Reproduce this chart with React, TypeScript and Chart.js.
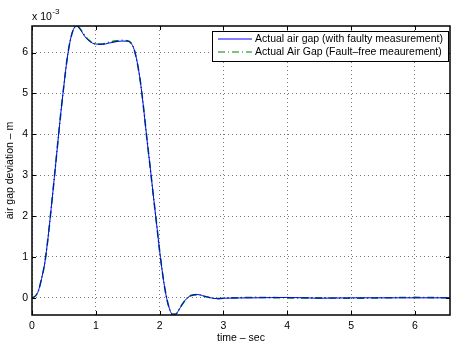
import React, { useEffect, useRef } from "react";
import Chart from "chart.js/auto";

// time axis (sec)
const timeSec = [
  0.0, 0.05, 0.1, 0.15, 0.2, 0.25, 0.3, 0.35, 0.4, 0.45, 0.5, 0.55, 0.6, 0.65, 0.7,
  0.75, 0.8, 0.85, 0.9, 0.95, 1.0, 1.1, 1.2, 1.3, 1.4, 1.48, 1.55, 1.6, 1.65, 1.7,
  1.75, 1.8, 1.85, 1.9, 1.95, 2.0, 2.05, 2.1, 2.15, 2.2, 2.25, 2.3, 2.35, 2.4, 2.45,
  2.5, 2.6, 2.7, 2.8, 2.9, 3.0, 3.5, 4.0, 4.5, 5.0, 5.5, 6.0, 6.55,
];
// air gap deviation (x 10^-3 m), with faulty measurement
const gapFaulty = [
  0.0, 0.04, 0.17, 0.47, 0.85, 1.45, 2.18, 2.94, 3.73, 4.5, 5.2, 5.84, 6.3, 6.57, 6.65,
  6.58, 6.46, 6.35, 6.28, 6.23, 6.21, 6.2, 6.23, 6.26, 6.28, 6.28, 6.23, 6.08, 5.75, 5.27,
  4.62, 3.9, 3.22, 2.52, 1.84, 1.15, 0.55, 0.07, -0.25, -0.4, -0.4, -0.3, -0.17, -0.06, 0.02,
  0.06, 0.08, 0.04, 0.0, -0.02, -0.01, 0.0, 0.01, -0.01, 0.0, 0.0, 0.0, 0.0,
];
// air gap deviation (x 10^-3 m), fault-free measurement
const gapFaultFree = [
  0.0, 0.04, 0.17, 0.47, 0.85, 1.45, 2.18, 2.94, 3.73, 4.5, 5.2, 5.84, 6.3, 6.57, 6.65,
  6.59, 6.48, 6.37, 6.29, 6.24, 6.21, 6.21, 6.25, 6.28, 6.3, 6.29, 6.24, 6.08, 5.75, 5.27,
  4.62, 3.9, 3.22, 2.52, 1.84, 1.15, 0.55, 0.07, -0.25, -0.4, -0.4, -0.3, -0.17, -0.06, 0.02,
  0.06, 0.08, 0.04, 0.0, -0.02, -0.01, 0.01, 0.0, 0.0, -0.01, 0.0, 0.01, 0.0,
];
const xTicks = [0, 1, 2, 3, 4, 5, 6];
const yTicks = [0, 1, 2, 3, 4, 5, 6];
const seriesLabels = [
  "Actual air gap (with faulty measurement)",
  "Actual Air Gap (Fault\u2013free meaurement)",
];
const xTitle = "time \u2013 sec";
const yTitle = "air gap deviation \u2013 m";
const exponentBase = "x 10";
const exponentPower = "-3";

const FONT = "'Liberation Sans', Arial, Helvetica, sans-serif";
const BLUE = "#0000ff";
const GREEN = "#008000";
const GREEN_DASH = [7, 3, 1, 3];

const framePlugin = {
  id: "matlabFrame",
  afterDraw(chart: any) {
    const { ctx, chartArea: a, scales } = chart;
    const xs = scales.x;
    const ys = scales.y;
    ctx.save();
    // inner tick marks
    ctx.strokeStyle = "#000";
    ctx.lineWidth = 1;
    ctx.beginPath();
    xTicks.forEach((v) => {
      const px = Math.round(xs.getPixelForValue(v)) + 0.5;
      ctx.moveTo(px, a.bottom);
      ctx.lineTo(px, a.bottom - 4);
      ctx.moveTo(px, a.top);
      ctx.lineTo(px, a.top + 4);
    });
    yTicks.forEach((v) => {
      const py = Math.round(ys.getPixelForValue(v)) + 0.5;
      ctx.moveTo(a.left, py);
      ctx.lineTo(a.left + 4, py);
      ctx.moveTo(a.right, py);
      ctx.lineTo(a.right - 4, py);
    });
    ctx.stroke();
    // box
    ctx.lineWidth = 1.5;
    ctx.strokeRect(a.left, a.top, a.right - a.left, a.bottom - a.top);

    // exponent label
    ctx.fillStyle = "#000";
    ctx.textAlign = "left";
    ctx.textBaseline = "alphabetic";
    ctx.font = `10.5px ${FONT}`;
    ctx.fillText(exponentBase, a.left, 20);
    const bw = ctx.measureText(exponentBase).width;
    ctx.font = `8px ${FONT}`;
    ctx.fillText(exponentPower, a.left + bw + 0.5, 14);

    // legend
    const lx = 212.5, ly = 31.5, lw = 236, lh = 30;
    ctx.fillStyle = "#fff";
    ctx.fillRect(lx, ly, lw, lh);
    ctx.strokeStyle = "#000";
    ctx.lineWidth = 1;
    ctx.strokeRect(lx, ly, lw, lh);
    const rows = [
      { y: 39, color: BLUE, dash: [] as number[], text: seriesLabels[0] },
      { y: 52, color: GREEN, dash: GREEN_DASH, text: seriesLabels[1] },
    ];
    rows.forEach((r) => {
      ctx.strokeStyle = r.color;
      ctx.lineWidth = 1;
      ctx.setLineDash(r.dash);
      ctx.beginPath();
      ctx.moveTo(218, r.y);
      ctx.lineTo(252, r.y);
      ctx.stroke();
      ctx.setLineDash([]);
      ctx.fillStyle = "#000";
      ctx.font = `10.5px ${FONT}`;
      ctx.textAlign = "left";
      ctx.textBaseline = "middle";
      ctx.fillText(r.text, 255, r.y);
    });
    ctx.restore();
  },
};

export default function App() {
  const ref = useRef<HTMLCanvasElement | null>(null);
  useEffect(() => {
    document.body.style.margin = "0";
    const canvas = ref.current;
    if (!canvas) return;
    const tickFont = { family: FONT, size: 10.5 };
    const chart = new Chart(canvas, {
      type: "line",
      data: {
        datasets: [
          {
            label: seriesLabels[0],
            data: timeSec.map((t, i) => ({ x: t, y: gapFaulty[i] })),
            borderColor: BLUE,
            borderWidth: 1,
            pointRadius: 0,
            cubicInterpolationMode: "monotone",
            order: 0,
          },
          {
            label: seriesLabels[1],
            data: timeSec.map((t, i) => ({ x: t, y: gapFaultFree[i] })),
            borderColor: GREEN,
            borderWidth: 1.6,
            borderDash: GREEN_DASH,
            pointRadius: 0,
            cubicInterpolationMode: "monotone",
            order: 1,
          },
        ],
      },
      options: {
        animation: false,
        responsive: false,
        events: [],
        layout: { padding: { top: 26, right: 1, left: 0, bottom: 0 } },
        plugins: { legend: { display: false }, tooltip: { enabled: false } },
        scales: {
          x: {
            type: "linear",
            min: 0,
            max: 6.55,
            afterBuildTicks: (s: any) => {
              s.ticks = xTicks.map((v) => ({ value: v }));
            },
            afterFit: (s: any) => {
              s.height = 29;
            },
            ticks: {
              font: tickFont,
              color: "#000",
              padding: 5,
              maxRotation: 0,
              autoSkip: false,
              callback: (v: any) => String(v),
            },
            grid: { color: "#777", lineWidth: 1, drawTicks: false },
            border: { display: false, dash: [1, 3] },
            title: {
              display: true,
              text: xTitle,
              color: "#000",
              font: tickFont,
              padding: { top: 0, bottom: 0 },
            },
          },
          y: {
            type: "linear",
            min: -0.42,
            max: 6.65,
            afterBuildTicks: (s: any) => {
              s.ticks = yTicks.map((v) => ({ value: v }));
            },
            afterFit: (s: any) => {
              s.width = 32;
            },
            ticks: {
              font: tickFont,
              color: "#000",
              padding: 4,
              autoSkip: false,
              callback: (v: any) => String(v),
            },
            grid: { color: "#777", lineWidth: 1, drawTicks: false },
            border: { display: false, dash: [1, 3] },
            title: {
              display: true,
              text: yTitle,
              color: "#000",
              font: tickFont,
              padding: { top: 4, bottom: 0 },
            },
          },
        },
      },
      plugins: [framePlugin],
    });
    return () => chart.destroy();
  }, []);
  return (
    <div style={{ width: 451, height: 344, background: "#fff" }}>
      <canvas ref={ref} width={451} height={344} style={{ display: "block" }} />
    </div>
  );
}
